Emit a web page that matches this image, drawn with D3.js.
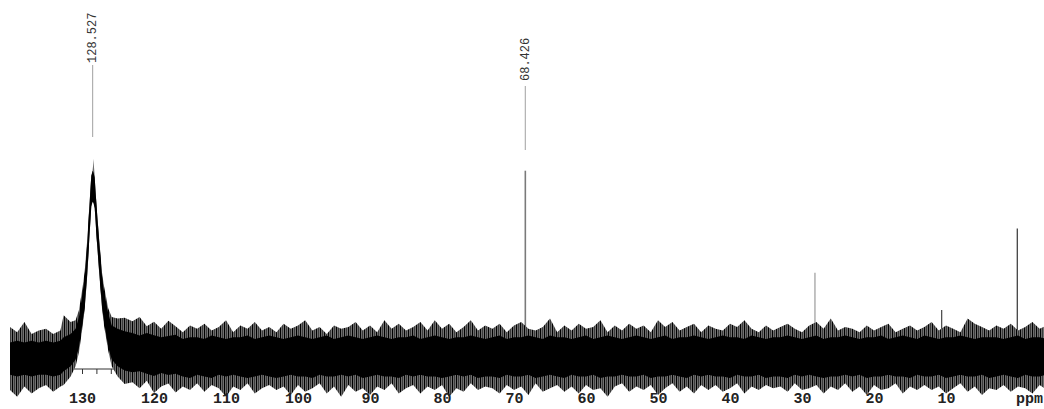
<!DOCTYPE html>
<html><head><meta charset="utf-8">
<script src="https://cdn.jsdelivr.net/npm/d3@7"></script>
<style>body{margin:0;background:#fff;}svg{display:block;}</style>
</head><body>
<svg id="c" width="1044" height="409"></svg>
<script>
// ---- data ----
// sample positions along the ppm axis
const ppmGrid = [140,139,138,137,136,135,134,133,
 132.55,131.58,130.89,130.42,129.9,129.62,129.26,128.985,128.71,128.527,128.40,128.235,127.96,127.60,127.22,126.94,126.35,125.87,125.05,124.08,
 123,122,121,120,119,118,117,116,115,114,
 113,112,111,110,109,108,107,106,105,104,
 103,102,101,100,99,98,97,96,95,94,
 93,92,91,90,89,88,87,86,85,84,
 83,82,81,80,79,78,77,76,75,74,
 73,72,71,70,69,68,67,66,65,64,
 63,62,61,60,59,58,57,56,55,54,
 53,52,51,50,49,48,47,46,45,44,
 43,42,41,40,39,38,37,36,35,34,
 33,32,31,30,29,28,27,26,25,24,
 23,22,21,20,19,18,17,16,15,14,
 13,12,11,10,9,8,7,6,5,4,
 3,2,1,0,-1,-2,-3,-4];
// broad signal (128.527 ppm) height at each sample
const broadSignal = [0,0,0,0,0,0,0,0,
 2,4,7,14,29,38,58,78,97,100,99,96,78,58,38,29,15,8,5,3.5,
 2.5,2,1.5,1.2,1,0.8,0.5,0,0,0,
 0,0,0,0,0,0,0,0,0,0, 0,0,0,0,0,0,0,0,0,0, 0,0,0,0,0,0,0,0,0,0,
 0,0,0,0,0,0,0,0,0,0, 0,0,0,0,0,0,0,0,0,0, 0,0,0,0,0,0,0,0,0,0,
 0,0,0,0,0,0,0,0,0,0, 0,0,0,0,0,0,0,0,0,0, 0,0,0,0,0,0,0,0,0,0,
 0,0,0,0,0,0,0,0,0,0, 0,0,0,0,0,0,0,0,0,0, 0,0,0,0,0,0,0,0];
// noise: spike tips above / below the signal
const noiseTipHi = [17,14,20,13,15,16,13,15,
 22,16,14,13,12,12,11,10,9,8,17,8,9,10,11,12,13,15,17,19,
 18,21,16,19,15,20,17,14,18,16,
 19,15,17,21,14,18,16,20,15,17,
 14,19,16,18,21,15,17,13,18,16,
 17,20,15,18,14,21,16,19,15,17,
 20,15,21,16,19,14,17,21,15,18,
 16,19,14,18,20,16,15,17,22,14,
 18,15,19,16,17,21,14,18,15,19,
 16,18,14,21,17,20,15,17,19,14,
 18,16,15,19,17,21,16,14,18,15,
 17,19,16,14,18,20,16,22,15,17,
 16,14,18,15,17,19,14,16,18,15,
 17,20,15,18,16,14,22,19,17,15,
 18,16,19,15,17,20,16,18];
const noiseTipLo = [-20,-24,-18,-22,-19,-17,-21,-18,
 -19,-16,-13,-12,-11,-10,-10,-9,-9,-9,-9,-9,-9,-10,-10,-11,-12,-14,-17,-20,
 -18,-21,-16,-23,-19,-17,-22,-18,-20,-16,
 -21,-17,-19,-24,-18,-20,-16,-22,-19,-17,
 -20,-18,-23,-17,-21,-19,-16,-22,-18,-24,
 -17,-21,-19,-23,-18,-20,-16,-22,-19,-17,
 -22,-18,-20,-17,-24,-19,-21,-16,-20,-18,
 -19,-22,-17,-20,-18,-23,-16,-21,-19,-17,
 -21,-18,-22,-17,-20,-19,-24,-18,-16,-21,
 -18,-20,-17,-23,-19,-16,-21,-18,-22,-17,
 -20,-17,-21,-19,-16,-22,-18,-20,-17,-19,
 -18,-21,-16,-20,-19,-17,-22,-18,-20,-16,
 -21,-18,-23,-17,-20,-19,-16,-22,-18,-20,
 -17,-20,-18,-22,-19,-16,-21,-18,-23,-19,
 -20,-17,-21,-18,-19,-22,-17,-20];
// noise: dense core above / below the signal
const noiseCoreHi = [8,9,8,9,8,9,8,9,
 9,9,9,9,9,9,9,9,9,9,9,9,9,9,9,9,10,10,11,11,
 11,10,12,11,10,11,12,10,11,11, 10,12,11,10,11,11,12,10,11,12,
 11,10,11,12,11,10,11,12,10,11, 12,11,10,11,12,11,10,11,11,12,
 10,11,12,11,10,11,11,12,11,10, 11,12,10,11,11,12,11,10,12,11,
 11,10,11,12,10,11,12,11,10,11, 12,11,10,11,12,10,11,11,12,11,
 10,11,12,11,11,10,12,11,10,11, 11,12,11,10,11,12,10,11,11,12,
 11,10,11,11,12,10,11,12,11,10, 12,11,10,11,11,12,11,10,11,11,
 11,10,11,12,10,11,11,10];
const noiseCoreLo = [-11,-12,-11,-12,-11,-11,-12,-11,
 -11,-10,-9,-9,-9,-9,-9,-9,-9,-9,-9,-9,-9,-9,-9,-9,-10,-10,-11,-12,
 -12,-11,-12,-13,-11,-12,-11,-12,-13,-11, -12,-13,-11,-12,-11,-12,-13,-12,-11,-12,
 -13,-12,-11,-12,-12,-13,-11,-12,-12,-11, -12,-11,-13,-12,-11,-12,-12,-13,-11,-12,
 -11,-12,-12,-13,-12,-11,-12,-11,-13,-12, -12,-13,-11,-12,-12,-11,-13,-12,-11,-12,
 -13,-11,-12,-12,-11,-13,-12,-12,-11,-12, -12,-11,-13,-12,-12,-11,-12,-13,-11,-12,
 -11,-12,-12,-13,-11,-12,-12,-11,-13,-12, -12,-13,-11,-12,-11,-12,-13,-12,-12,-11,
 -12,-11,-13,-12,-12,-11,-12,-12,-13,-11, -12,-12,-11,-13,-12,-11,-12,-12,-11,-13,
 -12,-11,-12,-13,-11,-12,-12,-11];
// sharp lines
const linePpm = [68.426, 28.2, 10.6, 0.1];
const lineHeight = [109, 49, 27, 75];
// peak labels
const labelPpm = [128.527, 68.426];
const labelText = ["128.527", "68.426"];
// axis
const majorTicks = [130,120,110,100,90,80,70,60,50,40,30,20,10];
const axisUnit = "ppm";

// ---- drawing ----
const svg = d3.select("#c");
const x = d3.scaleLinear().domain([130, 0]).range([82, 1018]);
const y = d3.scaleLinear().domain([0, 100]).range([356, 186]);

const defs = svg.append("defs");
const pat = defs.append("pattern").attr("id","spk").attr("patternUnits","userSpaceOnUse")
  .attr("width",8).attr("height",6);
pat.append("rect").attr("width",8).attr("height",6).attr("fill","#9c9c9c");
[[0,1.3,"#000"],[2.2,0.9,"#222"],[3.8,1.5,"#000"],[6.3,1,"#111"]].forEach(([px,w,c]) =>
  pat.append("rect").attr("x",px).attr("width",w).attr("height",6).attr("fill",c));

// axis line and minor ticks (mostly hidden under the noise)
const axisY = 369;
svg.append("g").attr("transform",`translate(0,${axisY})`)
  .call(d3.axisBottom(x).tickValues(d3.range(0, 141, 2)).tickSize(5).tickFormat(""))
  .call(g => g.select(".domain").attr("d", `M${x(140)},0H1044`).attr("stroke","#333"))
  .call(g => g.selectAll(".tick line").attr("stroke","#333"));

// sharp lines (drawn below the noise band)
const lineCols = ["#7a7a7a","#9a9a9a","#444","#333"];
svg.append("g").selectAll("line").data(linePpm).join("line")
  .attr("x1", d => x(d)).attr("x2", d => x(d))
  .attr("y1", y(0)).attr("y2", (d,i) => y(lineHeight[i]))
  .attr("stroke", (d,i) => lineCols[i]).attr("stroke-width", (d,i) => i === 0 ? 1.6 : 1.2);

const pts = ppmGrid.map((p,i) => ({p, s: broadSignal[i], th: noiseTipHi[i], tl: noiseTipLo[i], ch: noiseCoreHi[i], cl: noiseCoreLo[i]}));

svg.append("path").datum(pts)
  .attr("d", d3.area().x(d => x(d.p)).y0(d => y(d.s + d.tl)).y1(d => y(d.s + d.th)))
  .attr("fill","url(#spk)");
svg.append("path").datum(pts)
  .attr("d", d3.area().x(d => x(d.p)).y0(d => y(d.s + d.cl)).y1(d => y(d.s + d.ch)))
  .attr("fill","#000");

// peak labels with connector lines
const connTop = [65, 86], connBot = [137, 150], textBase = [63, 81];
labelPpm.forEach((p,i) => {
  svg.append("line").attr("x1", x(p)).attr("x2", x(p)).attr("y1", connTop[i]).attr("y2", connBot[i])
    .attr("stroke","#b0b0b0").attr("stroke-width",1.2);
  svg.append("text").attr("transform", `translate(${x(p)+3.5},${textBase[i]}) rotate(-90)`)
    .attr("font-family","Liberation Mono, DejaVu Sans Mono, monospace").attr("font-size",12)
    .attr("fill","#333").text(labelText[i]);
});

// tick labels
svg.append("g").attr("transform",`translate(0,${axisY})`)
  .call(d3.axisBottom(x).tickValues(majorTicks).tickSize(0).tickPadding(23).tickFormat(d3.format("d")))
  .call(g => g.select(".domain").remove())
  .call(g => g.selectAll("text").attr("font-family","Liberation Mono, monospace").attr("font-size",15)
    .attr("font-weight","bold").attr("fill","#222"));
svg.append("text").attr("x",1043).attr("y",403).attr("text-anchor","end")
  .attr("font-family","Liberation Mono, monospace").attr("font-size",15).attr("font-weight","bold")
  .attr("fill","#222").text(axisUnit);
</script>
</body></html>
